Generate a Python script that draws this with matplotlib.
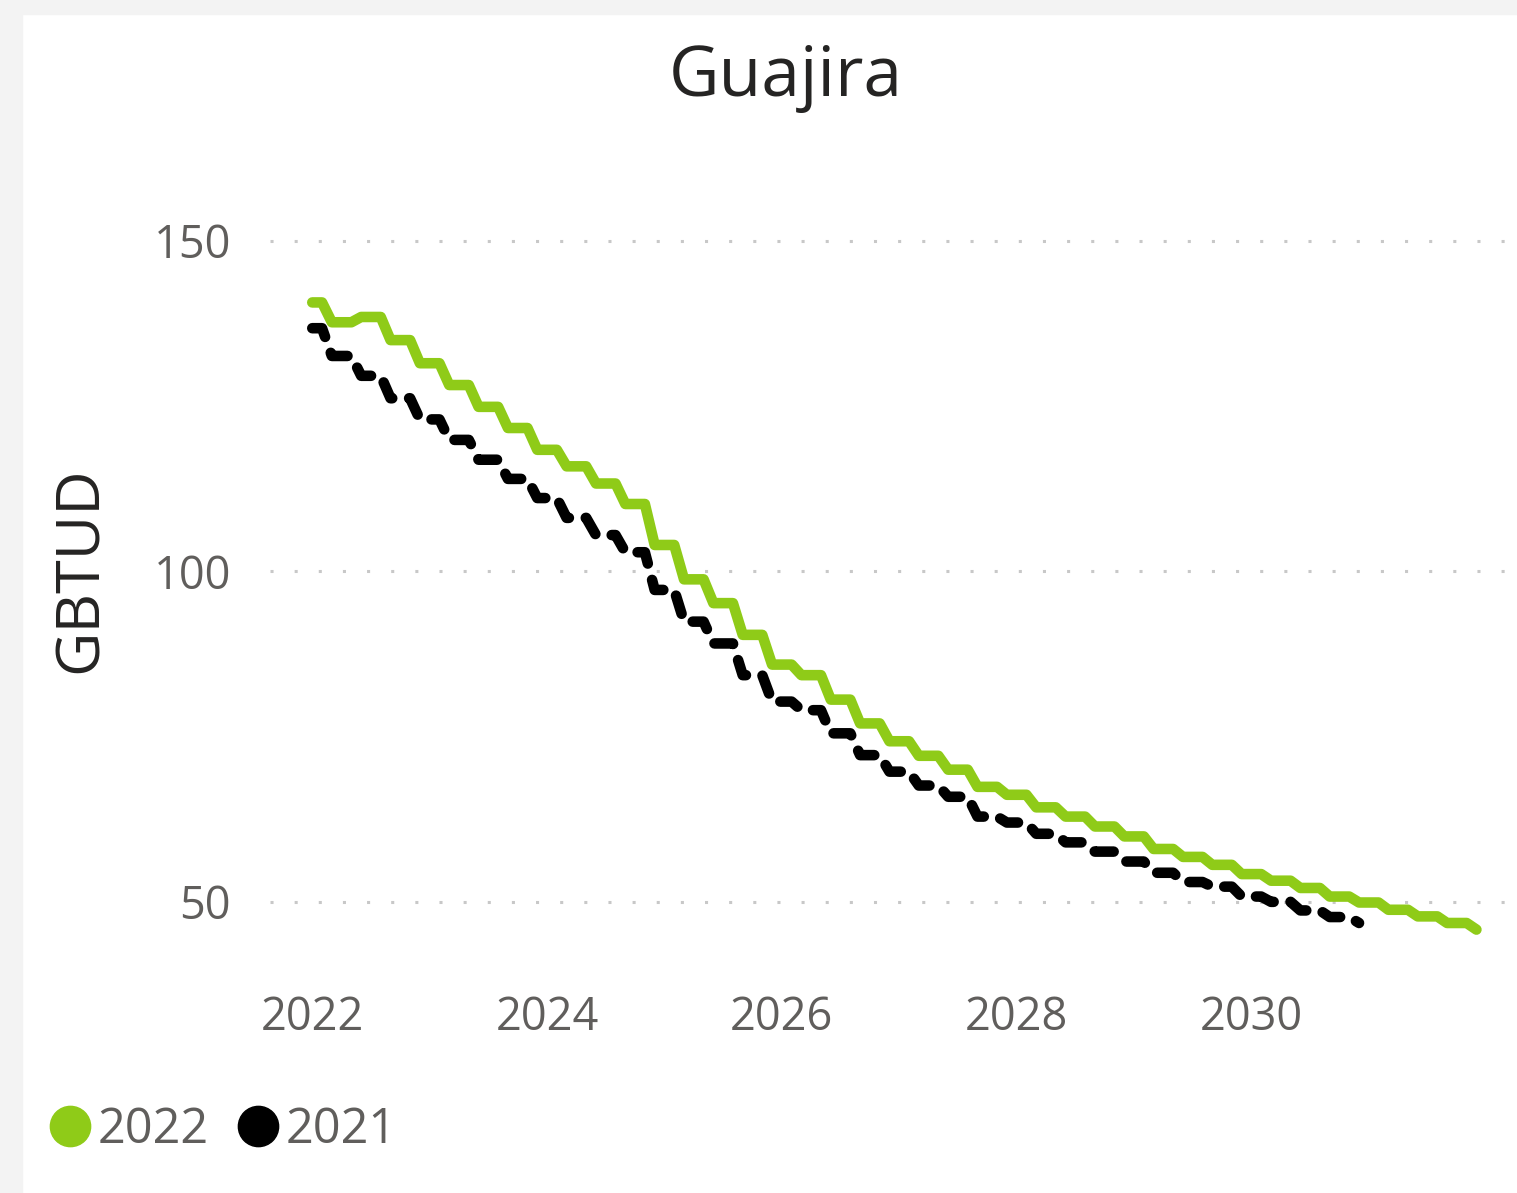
#!/usr/bin/env python3
# -*- coding: utf-8 -*-

import numpy as np
import matplotlib
matplotlib.use('Agg')  # noqa: E402
import matplotlib.pyplot as plt  # noqa: E402
from matplotlib.lines import Line2D  # noqa: E402
from matplotlib.patches import Rectangle  # noqa: E402

# ====== 데이터 (월별, 분기마다 값이 바뀜) ======
TITLE = 'Guajira'
Y_LABEL = 'GBTUD'
SERIES_NAMES = ['2022', '2021']
START_YEAR = 2022
X_TICKS = [2022, 2024, 2026, 2028, 2030]
Y_TICKS = [50, 100, 150]

# 2022 전망 (2022-01 ~ 2031-12)
gbtud_2022 = [
    140.7, 140.7,
    137.7, 137.7, 137.7, 138.5, 138.5, 138.5, 135.0, 135.0, 135.0,
    131.5, 131.5, 131.5, 128.2, 128.2, 128.2, 124.9, 124.9, 124.9,
    121.7, 121.7, 121.7, 118.4, 118.4, 118.4, 115.9, 115.9, 115.9,
    113.3, 113.3, 113.3, 110.2, 110.2, 110.2, 104.0, 104.0, 104.0,
    98.8, 98.8, 98.8, 95.2, 95.2, 95.2, 90.4, 90.4, 90.4,
    85.9, 85.9, 85.9, 84.3, 84.3, 84.3, 80.6, 80.6, 80.6,
    77.0, 77.0, 77.0, 74.3, 74.3, 74.3, 72.1, 72.1, 72.1,
    70.0, 70.0, 70.0, 67.4, 67.4, 67.4, 66.2, 66.2, 66.2,
    64.3, 64.3, 64.3, 62.9, 62.9, 62.9, 61.4, 61.4, 61.4,
    59.9, 59.9, 59.9, 58.0, 58.0, 58.0, 56.8, 56.8, 56.8,
    55.6, 55.6, 55.6, 54.2, 54.2, 54.2, 53.2, 53.2, 53.2,
    52.1, 52.1, 52.1, 50.8, 50.8, 50.8, 49.9, 49.9, 49.9,
    48.8, 48.8, 48.8, 47.8, 47.8, 47.8, 46.8, 46.8, 46.8,
    45.8,
]

# 2021 전망 (2022-01 ~ 2030-12)
gbtud_2021 = [
    136.8, 136.8,
    132.6, 132.6, 132.6, 129.6, 129.6, 129.6, 126.2, 126.2, 126.2,
    123.0, 123.0, 123.0, 119.9, 119.9, 119.9, 116.9, 116.9, 116.9,
    114.0, 114.0, 114.0, 111.1, 111.1, 111.1, 108.1, 108.1, 108.1,
    105.5, 105.5, 105.5, 102.9, 102.9, 102.9, 97.2, 97.2, 97.2,
    92.4, 92.4, 92.4, 89.1, 89.1, 89.1, 84.3, 84.3, 84.3,
    80.3, 80.3, 80.3, 79.0, 79.0, 79.0, 75.5, 75.5, 75.5,
    72.2, 72.2, 72.2, 69.7, 69.7, 69.7, 67.6, 67.6, 67.6,
    65.9, 65.9, 65.9, 62.9, 62.9, 62.9, 62.0, 62.0, 62.0,
    60.3, 60.3, 60.3, 59.0, 59.0, 59.0, 57.6, 57.6, 57.6,
    56.1, 56.1, 56.1, 54.4, 54.4, 54.4, 53.0, 53.0, 53.0,
    52.3, 52.3, 52.3, 50.8, 50.8, 50.8, 50.0, 50.0, 50.0,
    48.7, 48.7, 48.7, 47.7, 47.7, 47.7,
    46.8,
]
# ==============================================

GREEN = '#8FCB18'
TEXT_GREY = '#605E5C'
TITLE_COLOR = '#252423'

plt.rcParams['font.family'] = ['Open Sans', 'DejaVu Sans']


def month_axis(values):
    """월 인덱스를 연도 소수로 변환."""
    return START_YEAR + np.arange(len(values)) / 12.0


def main() -> None:
    fig = plt.figure(figsize=(15.17, 11.93), dpi=100)

    # 카드 배경(왼쪽/위쪽 연한 그림자)
    fig.patches.append(Rectangle((0, 0), 22 / 1517, 1, transform=fig.transFigure,
                                 color='#F3F3F3', zorder=0))
    fig.patches.append(Rectangle((0, 1 - 14 / 1193), 1, 14 / 1193, transform=fig.transFigure,
                                 color='#F3F3F3', zorder=0))

    ax = fig.add_axes([270 / 1517, 1 - 960 / 1193, 1235 / 1517, 760 / 1193])

    ax.plot(month_axis(gbtud_2022), gbtud_2022, color=GREEN, lw=7.6,
            solid_capstyle='round', solid_joinstyle='round', zorder=3)
    ax.plot(month_axis(gbtud_2021), gbtud_2021, color='black', lw=7.6,
            linestyle=(0, (1.8, 1.6)), dash_capstyle='round',
            dash_joinstyle='round', zorder=4)

    ax.set_xlim(2021.64, 2032.16)
    ax.set_ylim(41.2, 156.2)
    ax.set_xticks(X_TICKS)
    ax.set_yticks(Y_TICKS)
    ax.set_xticklabels([str(t) for t in X_TICKS])
    ax.tick_params(axis='both', length=0, labelsize=32.5, colors=TEXT_GREY)
    ax.tick_params(axis='x', pad=25)
    ax.tick_params(axis='y', pad=28)

    ax.grid(axis='y', color='#C8C8C8', lw=2.2, linestyle=(0, (1, 6.9)),
            dash_capstyle='butt')
    ax.grid(axis='x', visible=False)
    for s in ax.spines.values():
        s.set_visible(False)

    ax.set_ylabel(Y_LABEL, fontsize=44, color=TITLE_COLOR)
    ax.yaxis.set_label_coords(-0.129, 0.513)

    fig.text(786 / 1517, 1 - 78 / 1193, TITLE, ha='center', va='center',
             fontsize=50, color=TITLE_COLOR)

    handles = [
        Line2D([], [], marker='o', color=GREEN, linestyle='none', markersize=29),
        Line2D([], [], marker='o', color='black', linestyle='none', markersize=29),
    ]
    fig.legend(handles, SERIES_NAMES, loc='center left',
               bbox_to_anchor=(24 / 1517, 1 - 1130 / 1193), ncol=2, frameon=False,
               fontsize=35, labelcolor=TEXT_GREY, handlelength=0.9,
               handletextpad=0.12, columnspacing=0.55, borderpad=0)

    fig.savefig('out.png', dpi=100, facecolor='white')
    plt.close(fig)


if __name__ == '__main__':
    main()
